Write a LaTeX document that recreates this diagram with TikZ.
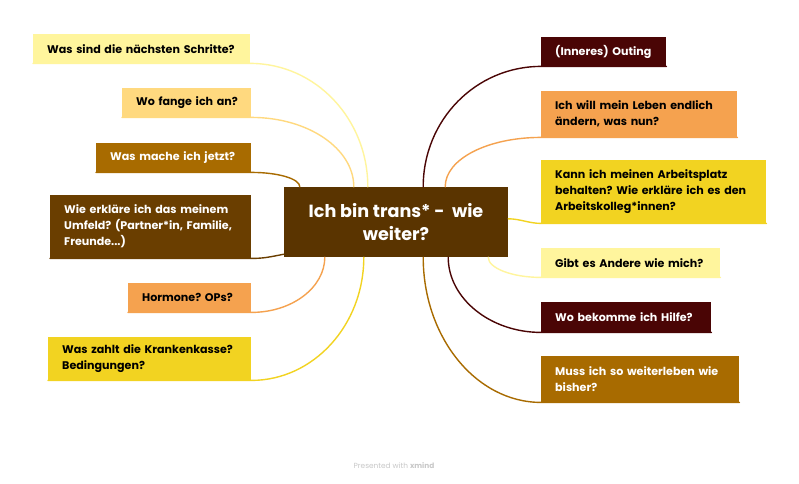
\documentclass[tikz,border=0pt]{standalone}
\usepackage{fontspec}
\setmainfont{Poppins}
\frenchspacing
\newcommand\oneline[1]{\mbox{#1}}
\definecolor{lyel}{HTML}{FFF59D}
\definecolor{lora}{HTML}{FFD97F}
\definecolor{gold}{HTML}{A86B00}
\definecolor{brwn}{HTML}{6A3E00}
\definecolor{oran}{HTML}{F5A24F}
\definecolor{yel}{HTML}{F2D321}
\definecolor{dred}{HTML}{4A0505}
\definecolor{ctr}{HTML}{5A3400}
\definecolor{footgray}{HTML}{C8C8C8}
\begin{document}
\begin{tikzpicture}[x=1pt,y=-1pt,
  box/.style={rectangle, inner xsep=14pt, inner ysep=0pt, anchor=north west,
    font=\bfseries\fontsize{11.1}{16}\selectfont, align=left},
  conn/.style={line width=1.4pt, line cap=round}]
\useasboundingbox (0,0) rectangle (799,483);
\fill[white] (0,0) rectangle (799,483);

% central topic
\node[rectangle, fill=ctr, text=white, minimum width=224pt, minimum height=70pt,
  inner sep=0pt, align=center, font=\bfseries\fontsize{17.6}{23}\selectfont]
  (c) at (396,222) {Ich bin trans* -\ \ wie\\weiter?};

% left topics
\node[box, fill=lyel, text=black, minimum width=217pt, text width=189pt, minimum height=29pt] (l1) at (33,34) {\oneline{Was sind die nächsten Schritte?}};
\node[box, fill=lora, text=black, minimum width=129pt, text width=101pt, minimum height=29pt] (l2) at (122,88) {\oneline{Wo fange ich an?}};
\node[box, fill=gold, text=white, minimum width=155pt, text width=127pt, minimum height=29pt] (l3) at (96,143) {\oneline{Was mache ich jetzt?}};
\node[box, fill=brwn, text=white, minimum width=201pt, text width=173pt, minimum height=63pt] (l4) at (50,195) {\oneline{Wie erkläre ich das meinem}\\\oneline{Umfeld? (Partner*in, Familie,}\\\oneline{Freunde...)}};
\node[box, fill=oran, text=black, minimum width=123pt, text width=95pt, minimum height=29pt] (l5) at (128,283) {\oneline{Hormone? OPs?}};
\node[box, fill=yel, text=black, minimum width=203pt, text width=175pt, minimum height=43pt] (l6) at (48,337) {\oneline{Was zahlt die Krankenkasse?}\\\oneline{Bedingungen?}};

% right topics
\node[box, fill=dred, text=white, minimum width=125pt, text width=97pt, minimum height=29pt] (r1) at (541,37) {\oneline{(Inneres) Outing}};
\node[box, fill=oran, text=black, minimum width=196pt, text width=168pt, minimum height=46pt] (r2) at (541,91) {\oneline{Ich will mein Leben endlich}\\\oneline{ändern, was nun?}};
\node[box, fill=yel, text=black, minimum width=225pt, text width=197pt, minimum height=63pt] (r3) at (541,160) {\oneline{Kann ich meinen Arbeitsplatz}\\\oneline{behalten? Wie erkläre ich es den}\\\oneline{Arbeitskolleg*innen?}};
\node[box, fill=lyel, text=black, minimum width=179pt, text width=151pt, minimum height=29pt] (r4) at (541,248) {\oneline{Gibt es Andere wie mich?}};
\node[box, fill=dred, text=white, minimum width=170pt, text width=142pt, minimum height=30pt] (r5) at (541,302) {\oneline{Wo bekomme ich Hilfe?}};
\node[box, fill=gold, text=white, minimum width=198pt, text width=170pt, minimum height=46pt] (r6) at (541,356) {\oneline{Muss ich so weiterleben wie}\\\oneline{bisher?}};

% connectors left
\draw[conn, draw=lyel] ([xshift=84pt]c.north west) .. controls +(0,-68) and +(65,0) .. (l1.south east) -- (l1.south west);
\draw[conn, draw=lora] ([xshift=70pt]c.north west) .. controls +(0,-38) and +(57,0) .. (l2.south east) -- (l2.south west);
\draw[conn, draw=gold] ([xshift=16pt]c.north west) .. controls +(0,-8) and +(27,0) .. (l3.south east) -- (l3.south west);
\draw[conn, draw=brwn] ([yshift=3pt]c.south west) .. controls +(-15,3) and +(12,0) .. (l4.south east) -- (l4.south west);
\draw[conn, draw=oran] ([xshift=41pt]c.south west) .. controls +(0,30) and +(41,0) .. (l5.south east) -- (l5.south west);
\draw[conn, draw=yel] ([xshift=80pt]c.south west) .. controls +(0,68) and +(62,0) .. (l6.south east) -- (l6.south west);

% connectors right
\draw[conn, draw=dred] ([xshift=-85pt]c.north east) .. controls +(0,-67) and +(-65,0) .. (r1.south west) -- (r1.south east);
\draw[conn, draw=oran] ([xshift=-63pt]c.north east) .. controls +(0,-28) and +(-53,0) .. (r2.south west) -- (r2.south east);
\draw[conn, draw=yel] ([yshift=-32pt]c.north east) .. controls +(12,0) and +(-12,0) .. (r3.south west) -- (r3.south east);
\draw[conn, draw=lyel] ([xshift=-20pt]c.south east) .. controls +(0,11) and +(-29,0) .. (r4.south west) -- (r4.south east);
\draw[conn, draw=dred] ([xshift=-60pt]c.south east) .. controls +(0,41) and +(-51,0) .. (r5.south west) -- (r5.south east);
\draw[conn, draw=gold] ([xshift=-85pt]c.south east) .. controls +(0,80) and +(-65,0) .. (r6.south west) -- (r6.south east);

% footer
\node[text=footgray, font=\fontsize{7.4}{9}\selectfont, inner sep=0pt] (foot) at (394,466) {Presented with \textbf{xmind}};
\end{tikzpicture}
\end{document}
